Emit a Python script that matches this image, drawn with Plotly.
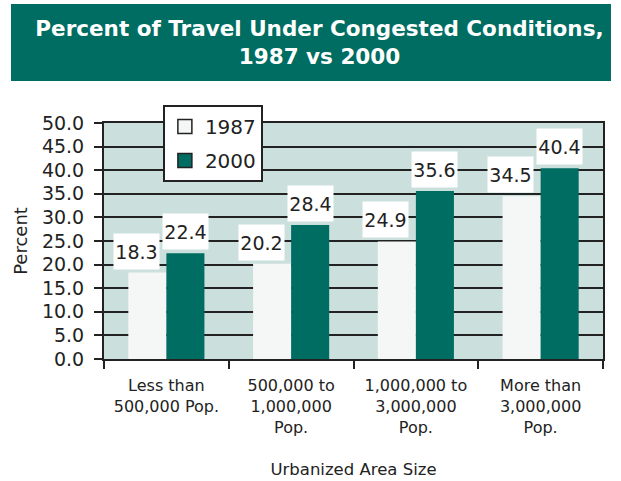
import plotly.graph_objects as go

categories = ["Less than<br>500,000 Pop.", "500,000 to<br>1,000,000<br>Pop.",
              "1,000,000 to<br>3,000,000<br>Pop.", "More than<br>3,000,000<br>Pop."]
years = ["1987", "2000"]
values_1987 = [18.3, 20.2, 24.9, 34.5]
values_2000 = [22.4, 28.4, 35.6, 40.4]

TEAL = "#006D62"
PALE = "#F4F7F5"
INK = "#222222"
FONT = "DejaVu Sans"

fig = go.Figure()
for name, vals, color in [(years[0], values_1987, PALE), (years[1], values_2000, TEAL)]:
    fig.add_trace(go.Bar(x=categories, y=vals, name=name, marker_color=color,
                         marker_line_width=0, showlegend=False))
    # legend-only marker with a dark outline
    fig.add_trace(go.Scatter(x=[None], y=[None], mode="markers", name=name,
                             legendgroup=name,
                             marker=dict(symbol="square", size=14, color=color,
                                         line=dict(color=INK, width=1.5))))

# value labels in white boxes
for vals, shift in [(values_1987, -30), (values_2000, 19)]:
    for cat, v in zip(categories, vals):
        fig.add_annotation(x=cat, y=v, text=f"{v:.1f}", showarrow=False,
                           xshift=shift, yshift=3, yanchor="bottom",
                           width=43, height=33, borderpad=1,
                           bgcolor="white", font=dict(size=19, color=INK, family=FONT))

# title banner
fig.add_shape(type="rect", xref="paper", yref="paper",
              x0=-0.1864, x1=1.016, y0=1.178, y1=1.504,
              fillcolor=TEAL, line_width=0, layer="below")

fig.update_layout(
    width=621, height=481,
    margin=dict(l=104, r=18, t=123, b=122),
    paper_bgcolor="white", plot_bgcolor="#CBDFDC",
    font=dict(family=FONT, color=INK),
    title=dict(text="<b>Percent of Travel Under Congested Conditions,<br>1987 vs 2000</b>",
               x=319.5 / 621, xanchor="center", y=1 - 36 / 481, yanchor="middle",
               font=dict(size=21.5, color="white", family=FONT)),
    barmode="group", bargap=0.39, bargroupgap=0,
    legend=dict(x=0.118, y=1.076, xanchor="left", yanchor="top",
                bgcolor="white", bordercolor=INK, borderwidth=2,
                font=dict(size=20, color=INK), tracegroupgap=5),
)
fig.update_xaxes(type="category", tickson="boundaries", ticks="outside", ticklen=8,
                 tickwidth=2, tickcolor=INK, showline=True, linecolor=INK, linewidth=2,
                 mirror=True, tickfont=dict(size=16), automargin=False,
                 ticklabelstandoff=11,
                 title=dict(text="Urbanized Area Size", font=dict(size=16.5), standoff=28))
fig.update_yaxes(range=[0, 50], dtick=5, tickformat=".1f", ticks="outside", ticklen=8,
                 tickwidth=2, tickcolor=INK, showgrid=True, gridcolor=INK, gridwidth=2,
                 showline=True, linecolor=INK, linewidth=2, mirror=True,
                 tickfont=dict(size=19), zeroline=False, automargin=False,
                 ticklabelstandoff=6,
                 title=dict(text="Percent", font=dict(size=18), standoff=10))

fig.write_html("out.html", config={"displayModeBar": False},
               post_script="document.body.style.margin='0';")
